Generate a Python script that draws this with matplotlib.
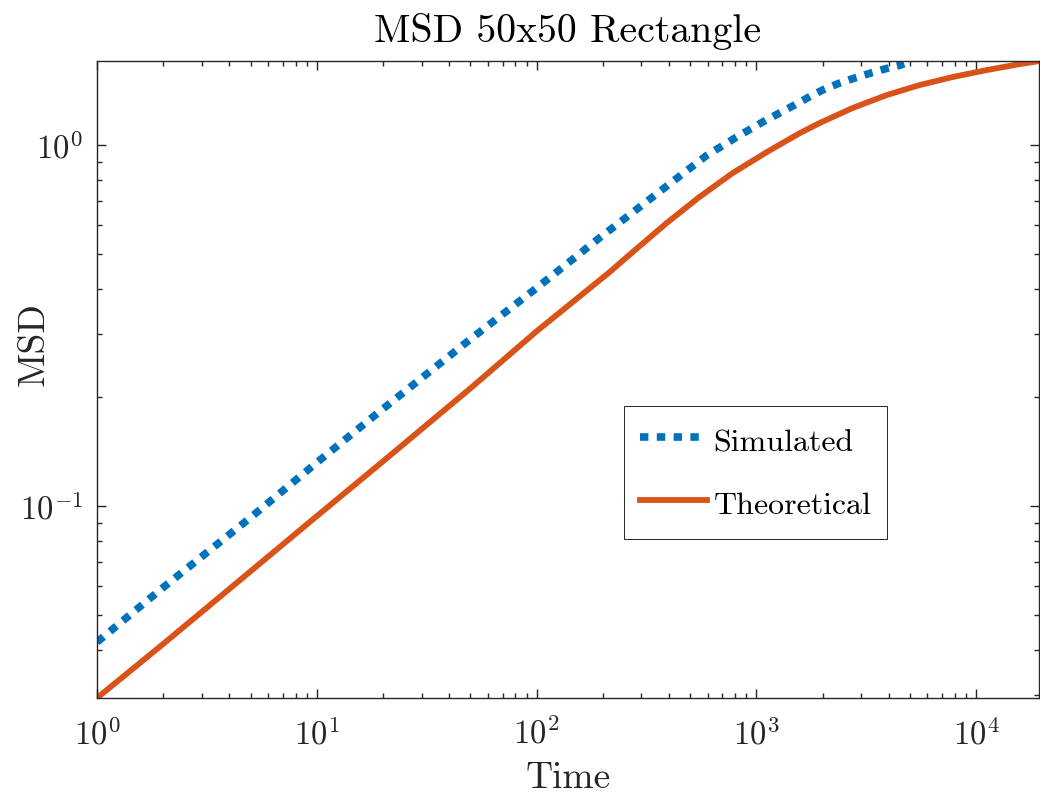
import numpy as np
import matplotlib
matplotlib.use("Agg")
import matplotlib.pyplot as plt

# values (log-log)
sim_time = [1, 2, 5, 10, 20, 50, 100, 193, 257, 337, 447, 592, 811, 1087, 1490,
            1797, 1995, 2385, 2788, 3266, 3820, 4467, 4700]
sim_msd = [0.042, 0.0595, 0.093, 0.132, 0.186, 0.290, 0.402, 0.553, 0.632, 0.718,
           0.82, 0.935, 1.052, 1.166, 1.291, 1.375, 1.42, 1.485, 1.533, 1.58,
           1.624, 1.662, 1.68]

theo_time = [1, 2, 5, 10, 20, 50, 100, 215, 273, 390, 550, 778, 1110, 1568, 1932,
             2730, 3900, 5510, 7780, 11100, 15700, 19300]
theo_msd = [0.0294, 0.0415, 0.0660, 0.0938, 0.133, 0.212, 0.305, 0.445, 0.505,
            0.608, 0.718, 0.836, 0.955, 1.078, 1.15, 1.266, 1.375, 1.466, 1.543,
            1.613, 1.676, 1.709]

title = "MSD 50x50 Rectangle"
xlabel = "Time"
ylabel = "MSD"
labels = ["Simulated", "Theoretical"]

plt.rcParams["font.family"] = "serif"
plt.rcParams["font.serif"] = ["cmr10"]
plt.rcParams["mathtext.fontset"] = "cm"
plt.rcParams["axes.formatter.use_mathtext"] = True

dark = "#262626"
blue = "#0072BD"
orange = "#D95319"

fig = plt.figure(figsize=(10.4, 7.93), dpi=100)
ax = fig.add_axes([97 / 1040, 1 - 698 / 793, 942 / 1040, 637 / 793])

ax.plot(sim_time, sim_msd, color=blue, lw=5.5, linestyle=(0, (1.1, 1.1)),
        dash_capstyle="butt", label=labels[0])
ax.plot(theo_time, theo_msd, color=orange, lw=4.2, label=labels[1])

ax.set_xscale("log")
ax.set_yscale("log")
ax.set_xlim(1, 19300)
ax.set_ylim(0.0294, 1.71)

ax.set_title(title, fontsize=28.7, color="black", pad=14)
ax.set_xlabel(xlabel, fontsize=27, color=dark, labelpad=8)
ax.set_ylabel(ylabel, fontsize=27, color=dark)
ax.yaxis.set_label_coords(-0.049, 0.556)

ax.tick_params(which="both", direction="in", top=True, right=True,
               colors=dark, width=1.0)
ax.tick_params(which="major", length=6.7, labelsize=23.5)
ax.tick_params(axis="x", which="major", pad=14)
ax.tick_params(axis="y", which="major", pad=10)
ax.tick_params(which="minor", length=3.8)
for s in ax.spines.values():
    s.set_color(dark)
    s.set_linewidth(1.0)

leg = ax.legend(loc="upper left", bbox_to_anchor=(0.5594, 0.4584), fontsize=23,
                handlelength=2.1, handleheight=1.45, handletextpad=0.2,
                labelspacing=0.78, borderpad=0.5, borderaxespad=0,
                fancybox=False, framealpha=1)
leg.get_frame().set_edgecolor(dark)
leg.get_frame().set_linewidth(0.7)
for t in leg.get_texts():
    t.set_color("black")

fig.savefig("out.png", dpi=100)
